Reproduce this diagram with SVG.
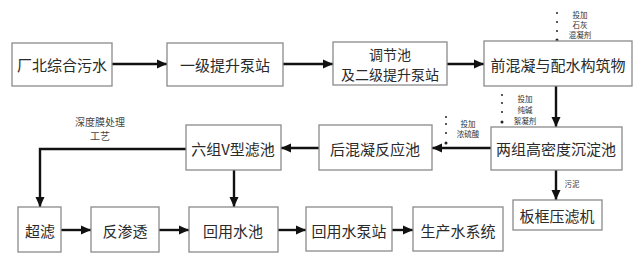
<svg xmlns="http://www.w3.org/2000/svg" width="640" height="261" viewBox="0 0 640 261">
<style>
.box{fill:#fff;stroke:#8a8a8a;stroke-width:1.3}
.t{font-family:"Noto Sans CJK SC","Noto Sans",sans-serif;font-size:15px;fill:#2a2a2a;text-anchor:middle;dominant-baseline:central}
.t2{font-family:"Noto Sans CJK SC","Noto Sans",sans-serif;font-size:14px;fill:#2a2a2a;text-anchor:middle;dominant-baseline:central}
.s{font-family:"Noto Sans CJK SC","Noto Sans",sans-serif;font-size:7.5px;fill:#333;text-anchor:middle;dominant-baseline:central}
.m{font-family:"Noto Sans CJK SC","Noto Sans",sans-serif;font-size:10px;fill:#444;text-anchor:middle;dominant-baseline:central}
.c{fill:none;stroke:#111;stroke-width:2.4}
.d{fill:#222}
</style>
<defs>
<marker id="ah" markerUnits="userSpaceOnUse" markerWidth="10" markerHeight="10" refX="10" refY="5" orient="auto">
<path d="M0,0.5 L10,5 L0,9.5 z" fill="#111"/>
</marker>
</defs>
<rect width="640" height="261" fill="#fff"/>
<g id="connectors">
<line class="c" x1="112" y1="64" x2="167" y2="64" marker-end="url(#ah)"/>
<line class="c" x1="283" y1="64" x2="333" y2="64" marker-end="url(#ah)"/>
<line class="c" x1="447" y1="64" x2="484" y2="64" marker-end="url(#ah)"/>
<line class="c" x1="556" y1="86" x2="556" y2="127" marker-end="url(#ah)"/>
<line class="c" x1="491" y1="148" x2="432" y2="148" marker-end="url(#ah)"/>
<line class="c" x1="319" y1="148" x2="281" y2="148" marker-end="url(#ah)"/>
<polyline class="c" points="186,149 40,149 40,207" marker-end="url(#ah)"/>
<line class="c" x1="234" y1="170" x2="234" y2="207" marker-end="url(#ah)"/>
<line class="c" x1="61" y1="230" x2="91" y2="230" marker-end="url(#ah)"/>
<line class="c" x1="159" y1="230" x2="189" y2="230" marker-end="url(#ah)"/>
<line class="c" x1="278" y1="230" x2="306" y2="230" marker-end="url(#ah)"/>
<line class="c" x1="392" y1="230" x2="413" y2="230" marker-end="url(#ah)"/>
<line class="c" x1="556" y1="170" x2="556" y2="200" marker-end="url(#ah)"/>
<g class="d">
<circle cx="557" cy="13" r="1"/><circle cx="557" cy="22" r="1"/><circle cx="557" cy="31" r="1"/><circle cx="557" cy="40" r="1.5"/>
<circle cx="502" cy="95" r="1"/><circle cx="502" cy="103" r="1"/><circle cx="502" cy="112" r="1"/><circle cx="502" cy="122" r="1.5"/>
<circle cx="446" cy="117" r="1"/><circle cx="446" cy="124" r="1"/><circle cx="446" cy="133" r="1"/><circle cx="446" cy="143" r="1.5"/>
</g>
</g>
<g id="labels">
<text class="s" x="580" y="14">投加</text>
<text class="s" x="580" y="24">石灰</text>
<text class="s" x="580" y="34">混凝剂</text>
<text class="s" x="525" y="98">投加</text>
<text class="s" x="525" y="109">纯碱</text>
<text class="s" x="525" y="120">絮凝剂</text>
<text class="s" x="468" y="123">投加</text>
<text class="s" x="468" y="133">浓硫酸</text>
<text class="s" x="572" y="183">污泥</text>
<text class="m" x="100" y="121">深度膜处理</text>
<text class="m" x="100" y="135">工艺</text>
</g>
<g id="n1"><rect class="box" x="12" y="43" width="100" height="43"/><text class="t" x="62" y="64">厂北综合污水</text></g>
<g id="n2"><rect class="box" x="167" y="43" width="116" height="43"/><text class="t" x="225" y="64">一级提升泵站</text></g>
<g id="n3"><rect class="box" x="333" y="42" width="114" height="43"/><text class="t2" x="390" y="53.5">调节池</text><text class="t2" x="390" y="74">及二级提升泵站</text></g>
<g id="n4"><rect class="box" x="484" y="41" width="148" height="45"/><text class="t" x="558" y="64">前混凝与配水构筑物</text></g>
<g id="n5"><rect class="box" x="491" y="127" width="131" height="43"/><text class="t" x="556" y="148">两组高密度沉淀池</text></g>
<g id="n6"><rect class="box" x="319" y="125" width="113" height="45"/><text class="t" x="375" y="148">后混凝反应池</text></g>
<g id="n7"><rect class="box" x="186" y="125" width="95" height="45"/><text class="t" x="233" y="148">六组V型滤池</text></g>
<g id="n8"><rect class="box" x="18" y="207" width="43" height="45"/><text class="t" x="40" y="230">超滤</text></g>
<g id="n9"><rect class="box" x="91" y="207" width="68" height="45"/><text class="t" x="125" y="230">反渗透</text></g>
<g id="n10"><rect class="box" x="189" y="207" width="89" height="45"/><text class="t" x="233" y="230">回用水池</text></g>
<g id="n11"><rect class="box" x="306" y="207" width="86" height="44"/><text class="t" x="349" y="230">回用水泵站</text></g>
<g id="n12"><rect class="box" x="413" y="207" width="90" height="44"/><text class="t" x="458" y="230">生产水系统</text></g>
<g id="n13"><rect class="box" x="513" y="200" width="89" height="30"/><text class="t" x="557" y="215">板框压滤机</text></g>
</svg>
